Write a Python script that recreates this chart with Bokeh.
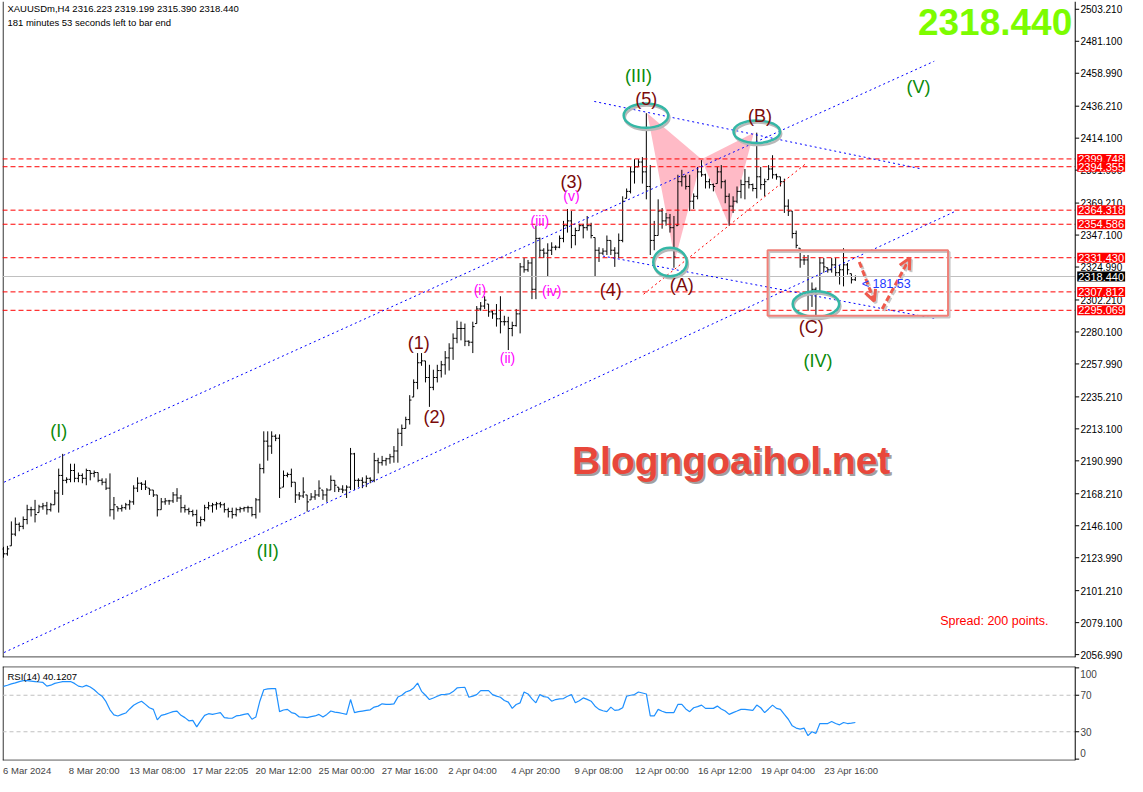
from bokeh.plotting import figure
from bokeh.models import Range1d, Span, Label, FixedTicker, PrintfTickFormatter, Arrow, OpenHead
from bokeh.layouts import column
from bokeh.embed import file_html
from bokeh.resources import INLINE

# ---------------- data ----------------
SYMBOL = "XAUUSDm,H4"
LAST_OHLC = [2316.223, 2319.199, 2315.390, 2318.440]
FIRST_OPEN = 2130.0

HIGH = [
    2131.5, 2132.2, 2149.1, 2151.8, 2148.4, 2152.5, 2160.6, 2159.2, 2164.0, 2160.6,
    2161.9, 2162.6, 2161.9, 2170.8, 2185.6, 2195.8, 2179.6, 2189.0, 2189.0, 2182.9,
    2182.3, 2185.6, 2184.3, 2184.3, 2182.9, 2178.9, 2178.9, 2182.3, 2166.0, 2159.2,
    2160.6, 2161.9, 2164.0, 2174.1, 2179.6, 2176.2, 2177.5, 2172.1, 2170.8, 2167.4,
    2165.3, 2165.3, 2164.0, 2169.4, 2172.1, 2167.4, 2160.6, 2158.6, 2157.2, 2157.2,
    2152.5, 2160.6, 2162.6, 2161.9, 2162.6, 2162.6, 2161.9, 2158.6, 2158.6, 2158.6,
    2159.2, 2159.2, 2159.9, 2159.2, 2165.3, 2189.0, 2211.4, 2211.4, 2211.4, 2209.3,
    2209.3, 2184.3, 2182.9, 2185.6, 2176.2, 2169.4, 2179.6, 2167.4, 2168.7, 2170.8,
    2177.5, 2170.8, 2172.1, 2180.9, 2177.5, 2172.8, 2174.1, 2174.1, 2199.9, 2196.5,
    2178.9, 2179.6, 2180.9, 2179.6, 2196.5, 2193.1, 2194.4, 2193.1, 2195.8, 2201.2,
    2213.4, 2216.1, 2221.5, 2236.4, 2247.3, 2265.5, 2265.5, 2260.1, 2257.4, 2254.0,
    2257.4, 2260.1, 2266.9, 2272.3, 2279.1, 2287.9, 2287.2, 2285.9, 2274.3, 2287.2,
    2298.0, 2300.8, 2304.8, 2299.4, 2294.7, 2299.4, 2304.8, 2291.3, 2290.6, 2287.2,
    2296.0, 2327.8, 2331.2, 2329.9, 2331.2, 2353.6, 2345.4, 2338.0, 2341.4, 2342.1,
    2340.0, 2346.8, 2356.9, 2365.1, 2363.7, 2352.2, 2354.9, 2354.9, 2360.3, 2355.6,
    2345.4, 2338.7, 2338.0, 2346.8, 2343.4, 2338.7, 2348.2, 2373.9, 2379.3, 2394.2,
    2399.6, 2399.6, 2401.0, 2431.4, 2395.5, 2356.9, 2371.8, 2365.8, 2362.4, 2361.7,
    2360.3, 2388.8, 2392.2, 2388.8, 2388.8, 2375.9, 2394.2, 2398.9, 2389.5, 2386.1,
    2382.7, 2394.2, 2395.5, 2385.4, 2375.9, 2373.9, 2380.7, 2385.4, 2392.8, 2387.4,
    2382.7, 2417.9, 2394.2, 2386.1, 2395.5, 2402.3, 2389.5, 2387.4, 2386.1, 2371.8,
    2363.7, 2350.2, 2338.0, 2333.3, 2333.3, 2314.3, 2310.9, 2331.9, 2331.2, 2324.5,
    2331.2, 2331.2, 2326.5, 2338.0, 2327.8, 2320.4, 2319.2]

LOW = [
    2124.0, 2125.4, 2132.2, 2138.9, 2142.3, 2143.7, 2147.1, 2152.5, 2148.4, 2155.2,
    2157.2, 2153.8, 2155.9, 2160.6, 2155.2, 2167.4, 2175.5, 2176.2, 2176.2, 2176.2,
    2175.5, 2174.1, 2177.5, 2179.6, 2176.2, 2174.1, 2170.8, 2152.5, 2150.4, 2155.9,
    2155.9, 2157.2, 2157.2, 2160.6, 2169.4, 2170.8, 2170.8, 2167.4, 2166.0, 2152.5,
    2157.2, 2160.6, 2160.6, 2161.9, 2162.6, 2155.2, 2155.2, 2153.8, 2152.5, 2145.7,
    2145.7, 2149.1, 2157.2, 2155.2, 2157.2, 2158.6, 2155.2, 2151.8, 2151.1, 2152.5,
    2155.2, 2155.9, 2155.2, 2152.5, 2151.1, 2155.2, 2182.3, 2191.1, 2195.8, 2204.6,
    2165.3, 2172.8, 2179.6, 2172.8, 2161.9, 2164.0, 2165.3, 2155.9, 2164.0, 2164.0,
    2166.0, 2164.0, 2162.6, 2170.8, 2169.4, 2169.4, 2168.7, 2165.3, 2170.8, 2170.8,
    2172.8, 2172.1, 2172.8, 2175.5, 2176.2, 2182.3, 2187.7, 2187.7, 2189.0, 2189.7,
    2189.7, 2201.2, 2213.4, 2216.1, 2235.1, 2240.5, 2256.7, 2245.2, 2228.3, 2239.8,
    2245.2, 2248.6, 2250.6, 2253.4, 2260.8, 2272.3, 2274.3, 2270.3, 2270.3, 2265.5,
    2285.9, 2294.7, 2296.0, 2290.6, 2289.2, 2283.8, 2279.1, 2284.5, 2267.6, 2277.1,
    2283.8, 2279.1, 2321.1, 2321.7, 2302.8, 2302.8, 2331.2, 2331.2, 2318.4, 2333.3,
    2336.6, 2338.0, 2342.1, 2348.8, 2338.0, 2340.0, 2350.2, 2344.8, 2350.2, 2344.8,
    2318.4, 2328.5, 2333.3, 2333.3, 2333.3, 2325.1, 2331.2, 2342.1, 2372.5, 2375.9,
    2382.7, 2394.2, 2382.7, 2371.8, 2333.3, 2336.6, 2346.8, 2351.5, 2353.6, 2348.8,
    2324.5, 2353.6, 2380.7, 2378.6, 2363.7, 2365.1, 2371.8, 2387.4, 2379.3, 2379.3,
    2377.3, 2382.7, 2379.3, 2369.1, 2353.6, 2362.4, 2369.1, 2372.5, 2371.8, 2379.3,
    2377.3, 2372.5, 2378.6, 2373.9, 2385.4, 2386.1, 2385.4, 2380.7, 2362.4, 2360.3,
    2344.8, 2338.0, 2324.5, 2326.5, 2294.7, 2297.4, 2291.3, 2308.2, 2321.1, 2321.1,
    2321.1, 2318.4, 2312.9, 2311.6, 2319.7, 2313.6, 2315.4]

CLOSE = [
    2126.7, 2130.1, 2140.3, 2147.1, 2145.7, 2150.4, 2157.2, 2157.2, 2153.8, 2159.2,
    2159.9, 2157.2, 2160.6, 2168.7, 2180.9, 2177.5, 2178.2, 2184.3, 2178.9, 2180.9,
    2178.9, 2184.3, 2182.3, 2182.9, 2177.5, 2176.2, 2172.1, 2157.2, 2160.6, 2157.9,
    2158.6, 2160.6, 2162.6, 2172.1, 2175.5, 2174.8, 2172.8, 2170.8, 2167.4, 2157.2,
    2162.6, 2163.3, 2163.3, 2167.4, 2165.3, 2158.6, 2157.2, 2155.9, 2153.8, 2148.4,
    2150.4, 2158.6, 2159.9, 2160.6, 2161.3, 2160.6, 2157.2, 2155.9, 2153.8, 2157.2,
    2157.9, 2158.6, 2158.6, 2153.8, 2164.0, 2185.6, 2204.6, 2201.2, 2208.0, 2206.6,
    2172.1, 2180.9, 2181.6, 2176.2, 2167.4, 2166.7, 2169.4, 2162.6, 2166.0, 2167.4,
    2172.1, 2167.4, 2170.8, 2177.5, 2174.1, 2171.4, 2170.8, 2172.8, 2195.8, 2177.5,
    2177.5, 2176.2, 2178.9, 2177.5, 2191.1, 2189.7, 2191.1, 2192.4, 2193.8, 2197.8,
    2210.0, 2213.4, 2219.5, 2233.0, 2245.2, 2258.8, 2260.1, 2248.6, 2241.8, 2248.6,
    2253.4, 2257.4, 2262.2, 2268.9, 2275.7, 2282.5, 2282.5, 2273.7, 2273.0, 2283.8,
    2296.0, 2298.0, 2302.1, 2294.0, 2292.6, 2289.2, 2287.2, 2287.2, 2282.5, 2284.5,
    2292.6, 2325.1, 2323.1, 2327.8, 2309.6, 2344.8, 2336.6, 2334.6, 2336.6, 2338.7,
    2338.7, 2344.8, 2353.6, 2356.9, 2346.8, 2350.2, 2353.6, 2352.2, 2353.6, 2346.8,
    2336.6, 2334.6, 2336.0, 2343.4, 2336.6, 2334.6, 2343.4, 2370.5, 2377.3, 2390.8,
    2394.2, 2397.6, 2390.8, 2380.7, 2343.4, 2346.8, 2363.7, 2356.9, 2359.0, 2352.2,
    2331.9, 2384.0, 2387.4, 2380.7, 2370.5, 2373.9, 2390.8, 2388.8, 2384.0, 2382.0,
    2380.7, 2390.8, 2384.0, 2373.9, 2367.1, 2370.5, 2377.3, 2382.0, 2384.0, 2382.0,
    2379.3, 2387.4, 2382.0, 2384.0, 2392.8, 2388.8, 2387.4, 2384.0, 2367.1, 2363.7,
    2348.2, 2340.0, 2329.9, 2329.9, 2306.2, 2309.6, 2306.2, 2327.8, 2325.1, 2323.1,
    2326.5, 2321.1, 2323.1, 2326.5, 2323.1, 2316.2, 2318.44]

RSI = [
    79.7, 81.0, 82.5, 83.5, 85.0, 86.0, 86.0, 85.5, 85.0, 84.5,
    84.0, 80.0, 81.0, 83.0, 84.0, 85.0, 85.0, 85.0, 83.0, 80.0,
    79.0, 80.8, 79.0, 76.0, 72.0, 69.0, 63.0, 54.0, 48.5, 47.3,
    49.0, 50.5, 55.0, 59.0, 61.5, 63.5, 60.0, 56.3, 54.5, 43.0,
    48.0, 49.0, 50.5, 52.0, 52.7, 48.0, 45.5, 42.0, 42.5, 35.4,
    42.0, 48.0, 49.8, 49.0, 50.0, 51.0, 45.5, 45.0, 44.8, 47.3,
    48.0, 49.0, 49.8, 43.7, 46.2, 63.5, 76.0, 77.0, 77.2, 77.2,
    52.0, 53.8, 54.5, 51.0, 49.8, 46.2, 46.0, 45.5, 46.5, 47.3,
    49.0, 46.2, 49.0, 52.7, 51.5, 51.0, 50.0, 49.0, 65.3, 51.0,
    52.0, 52.7, 53.4, 54.0, 57.0, 58.1, 60.6, 60.0, 59.9, 60.6,
    68.0, 70.0, 73.6, 75.0, 78.0, 83.3, 74.3, 70.0, 65.3, 67.0,
    68.9, 70.7, 71.0, 71.4, 74.0, 78.0, 78.5, 78.6, 67.8, 69.0,
    70.7, 75.0, 75.0, 75.0, 70.7, 69.0, 67.8, 64.2, 62.5, 55.6,
    59.9, 61.7, 73.6, 71.4, 66.0, 61.7, 70.7, 68.5, 67.8, 63.5,
    65.3, 66.0, 66.4, 68.9, 70.7, 61.7, 64.0, 67.1, 65.5, 63.5,
    58.0, 54.5, 53.0, 52.0, 57.0, 53.4, 54.0, 56.3, 68.9, 70.0,
    70.7, 73.6, 72.5, 71.4, 47.3, 47.3, 54.5, 52.5, 51.0, 51.0,
    51.0, 59.9, 59.9, 55.0, 52.0, 56.3, 57.5, 59.2, 55.6, 55.6,
    55.6, 58.1, 55.0, 52.7, 49.0, 51.0, 52.7, 54.5, 54.5, 54.0,
    53.4, 59.2, 56.3, 51.0, 55.0, 59.2, 55.6, 54.5, 49.0, 43.7,
    36.5, 34.0, 32.9, 34.0, 25.7, 30.0, 28.2, 39.0, 39.0, 39.0,
    41.2, 39.0, 37.6, 40.1, 39.0, 39.5, 40.1207]
RSI_PERIOD = 14

PRICE_TICKS = [2056.99, 2079.10, 2101.21, 2123.99, 2146.10, 2168.21, 2190.99,
               2213.10, 2235.21, 2257.99, 2280.10, 2302.21, 2324.99, 2347.10,
               2369.21, 2391.99, 2414.10, 2436.21, 2458.99, 2481.10, 2503.21]
LEVELS = [2399.748, 2394.355, 2364.318, 2354.586, 2331.430, 2307.812, 2295.069]
RSI_TICKS = [0, 30, 70, 100]
RSI_LEVELS = [30, 70]
TIME_BARS = [1, 17, 33, 49, 65, 81, 97, 113, 129, 145, 161, 177, 193, 209]
TIME_LABELS = ["6 Mar 2024", "8 Mar 20:00", "13 Mar 08:00", "17 Mar 22:05",
               "20 Mar 12:00", "25 Mar 00:00", "27 Mar 16:00", "2 Apr 04:00",
               "4 Apr 20:00", "9 Apr 08:00", "12 Apr 00:00", "16 Apr 12:00",
               "19 Apr 04:00", "23 Apr 16:00"]
SPREAD_POINTS = 200
MEASURE = "181.53"

# ---------------- annotation anchors (bar index, price) ----------------
WAVES_MAJOR = [("(I)", 15, 2211.4), ("(II)", 68, 2128.8), ("(III)", 162, 2457.2),
               ("(IV)", 207.5, 2260.1), ("(V)", 233, 2449.7)]
WAVES_MINOR = [("(1)", 106.3, 2272.3), ("(2)", 110.3, 2221.5), ("(3)", 145, 2384.0),
               ("(4)", 155, 2308.9), ("(5)", 164, 2440.9), ("(A)", 173, 2312.9),
               ("(B)", 192.8, 2429.4), ("(C)", 205.8, 2283.8)]
WAVES_SUB = [("(i)", 121.8, 2308.9), ("(ii)", 128.8, 2262.2), ("(iii)", 137, 2357.0),
             ("(iv)", 140, 2308.2), ("(v)", 145, 2373.9)]
CHANNELS = [((0, 2174.8), (237, 2467.3)), ((0, 2057.0), (242.5, 2363.7)),
            ((150.8, 2439.5), (233.8, 2392.8)), ((153, 2332.6), (237.5, 2289.2))]
RED_DOT_LINE = ((163.3, 2306.2), (204.3, 2396.2))
PATTERN_X = [[164.25, 171.25, 178.0], [178.0, 185.0, 191.25]]
PATTERN_Y = [[2431.4, 2329.9, 2399.6], [2399.6, 2353.6, 2417.9]]
ELL_X = [163.9, 192.0, 170.0, 207.0]
ELL_Y = [2429.7, 2418.6, 2328.5, 2299.4]
ELL_W = [11.3, 11.8, 8.5, 11.8]
ELL_H = [16.9, 15.6, 19.6, 17.6]
BOX = (194.75, 240.5, 2336.6, 2291.3)
ARROWS = [((218.0, 2328.5), (221.8, 2301.4)), ((223.8, 2296.0), (230.8, 2331.2))]

FONT = "Liberation Sans"
AX = 272.75                 # bar position of the price scale line
XR = (0.75, 285.75)         # frame also covers the price-scale strip
YR = (2055.0, 2508.6)
RR = (-1.5, 101.5)
FW = 1124
TICK_LEN = 1.0              # in bars

N = len(CLOSE)
X = list(range(1, N + 1))
OPEN = [FIRST_OPEN] + CLOSE[:-1]
OPEN[-1] = LAST_OHLC[0]
OPEN_D = [min(max(o, l), h) for o, l, h in zip(OPEN, LOW, HIGH)]

# ---------------- main price panel ----------------
p = figure(frame_width=FW, frame_height=656, x_range=Range1d(*XR), y_range=Range1d(*YR),
           y_axis_location="right", toolbar_location=None, output_backend="svg",
           min_border_left=2, min_border_top=1, min_border_bottom=7, min_border_right=1)
p.xaxis.visible = False
p.grid.visible = False
p.outline_line_color = None
p.background_fill_color = "white"
p.border_fill_color = "white"
ya = p.yaxis[0]
ya.ticker = FixedTicker(ticks=PRICE_TICKS)
ya.formatter = PrintfTickFormatter(format="%.3f")
ya.major_tick_in = 0
ya.major_tick_out = 0
ya.minor_tick_in = 0
ya.minor_tick_out = 0
ya.major_label_standoff = -46
ya.major_label_text_font = FONT
ya.major_label_text_font_size = "10px"
ya.major_label_text_color = "black"
ya.axis_line_color = None

# panel borders, price-scale line and its ticks
p.add_layout(Span(location=AX, dimension="height", line_color="black", line_width=1))
p.segment(x0=[XR[0], XR[0] + 0.15], y0=[YR[0] + 0.3, YR[0]], x1=[AX, XR[0] + 0.15], y1=[YR[0] + 0.3, YR[1]],
          line_color="black", line_width=1)
p.segment(x0=[AX] * len(PRICE_TICKS), y0=PRICE_TICKS, x1=[AX + TICK_LEN] * len(PRICE_TICKS),
          y1=PRICE_TICKS, line_color="black", line_width=1)

# harmonic pattern (pink)
p.patches(xs=PATTERN_X, ys=PATTERN_Y, fill_color="#ffbac6", line_color=None, fill_alpha=1.0)

# OHLC bars
p.segment(x0=X, y0=LOW, x1=X, y1=HIGH, line_color="black", line_width=1)
p.segment(x0=[x - 0.45 for x in X], y0=OPEN_D, x1=X, y1=OPEN_D, line_color="black", line_width=1)
p.segment(x0=X, y0=CLOSE, x1=[x + 0.45 for x in X], y1=CLOSE, line_color="black", line_width=1)

# horizontal levels
p.segment(x0=[XR[0]], y0=[LAST_OHLC[3]], x1=[AX], y1=[LAST_OHLC[3]], line_color="#c0c0c0", line_width=1)
p.segment(x0=[XR[0]] * len(LEVELS), y0=LEVELS, x1=[AX] * len(LEVELS), y1=LEVELS,
          line_color="red", line_width=1, line_dash="5 3")

# channel / trend lines
for (a, b) in CHANNELS:
    p.line(x=[a[0], b[0]], y=[a[1], b[1]], line_color="blue", line_width=1, line_dash="2 3")
p.line(x=[RED_DOT_LINE[0][0], RED_DOT_LINE[1][0]], y=[RED_DOT_LINE[0][1], RED_DOT_LINE[1][1]],
       line_color="red", line_width=1, line_dash="2 3")

# ellipses
p.ellipse(x=[v + 0.3 for v in ELL_X], y=[v - 1.5 for v in ELL_Y], width=ELL_W, height=ELL_H,
          fill_color=None, line_color="#b8b8b8", line_width=2.5)
p.ellipse(x=ELL_X, y=ELL_Y, width=ELL_W, height=ELL_H, fill_color=None,
          line_color="#35b7a6", line_width=2.5)

# box
l, r, t, b = BOX
p.quad(left=[l + 0.4], right=[r + 0.4], top=[t - 1.2], bottom=[b - 1.2], fill_color=None,
       line_color="#c8c8c8", line_width=2)
p.quad(left=[l], right=[r], top=[t], bottom=[b], fill_color=None, line_color="#f08078", line_width=2)

# arrows
for (s, e) in ARROWS:
    p.add_layout(Arrow(end=OpenHead(size=11, line_color="#c8c8c8", line_width=3),
                       x_start=s[0] + 0.4, y_start=s[1] - 1.2, x_end=e[0] + 0.4, y_end=e[1] - 1.2,
                       line_color="#c8c8c8", line_width=3, line_dash="6 3"))
    p.add_layout(Arrow(end=OpenHead(size=11, line_color="#ef5a4c", line_width=3),
                       x_start=s[0], y_start=s[1], x_end=e[0], y_end=e[1],
                       line_color="#ef5a4c", line_width=3, line_dash="6 3"))

p.add_layout(Label(x=ARROWS[0][0][0] + 0.6, y=2313.6, text="< " + MEASURE, text_color="#1f3cff",
                   text_font=FONT, text_font_size="12.5px", text_baseline="middle", text_align="left"))

# wave labels
for txt, xx, yy in WAVES_MAJOR:
    p.add_layout(Label(x=xx, y=yy, text=txt, text_color="#0a8a0a", text_font=FONT,
                       text_font_size="18px", text_align="center", text_baseline="middle"))
for txt, xx, yy in WAVES_MINOR:
    p.add_layout(Label(x=xx, y=yy, text=txt, text_color="#7a0a0a", text_font=FONT,
                       text_font_size="18px", text_align="center", text_baseline="middle"))
for txt, xx, yy in WAVES_SUB:
    p.add_layout(Label(x=xx, y=yy, text=txt, text_color="#ff00ff", text_font=FONT,
                       text_font_size="14px", text_align="center", text_baseline="middle"))

# watermark
for dx, dy, col in [(2, -2, "#a0a0a0"), (0, 0, "#e8473b")]:
    p.add_layout(Label(x=185.5, y=2191.1, x_offset=dx, y_offset=dy, text="Blogngoaihol.net",
                       text_color=col, text_font=FONT, text_font_size="39px",
                       text_font_style="bold", text_align="center", text_baseline="middle"))

# header texts
p.add_layout(Label(x=2, y=2503.9, text=SYMBOL + "  " + " ".join("%.3f" % v for v in LAST_OHLC),
                   text_font=FONT, text_font_size="9.5px", text_color="black",
                   text_baseline="middle", text_align="left"))
p.add_layout(Label(x=2, y=2494.4, text="181 minutes 53 seconds left to bar end",
                   text_font=FONT, text_font_size="9.5px", text_color="black",
                   text_baseline="middle", text_align="left"))
p.add_layout(Label(x=AX, y=2494.4, x_offset=-3, text="%.3f" % LAST_OHLC[3],
                   text_font=FONT, text_font_size="37px", text_font_style="bold",
                   text_color="#7cfc00", text_baseline="middle", text_align="right"))
p.add_layout(Label(x=238.5, y=2080.0, text="Spread: %d points." % SPREAD_POINTS, text_font=FONT,
                   text_font_size="12.5px", text_color="red", text_baseline="middle",
                   text_align="left"))

# price boxes on the price scale
for lv in LEVELS:
    p.add_layout(Label(x=AX, y=lv, x_offset=2, text="%.3f" % lv, text_font=FONT,
                       text_font_size="11px", text_color="white", background_fill_color="red",
                       text_baseline="middle", text_align="left", padding=1))
p.add_layout(Label(x=AX, y=LAST_OHLC[3], x_offset=2, text="%.3f" % LAST_OHLC[3], text_font=FONT,
                   text_font_size="11px", text_color="white", background_fill_color="black",
                   text_baseline="middle", text_align="left", padding=1))

# ---------------- RSI panel ----------------
q = figure(frame_width=FW, frame_height=94, x_range=p.x_range, y_range=Range1d(*RR),
           y_axis_location="right", toolbar_location=None, output_backend="svg",
           min_border_left=2, min_border_top=2, min_border_bottom=0, min_border_right=1)
q.grid.visible = False
q.outline_line_color = None
q.background_fill_color = "white"
q.border_fill_color = "white"
q.add_layout(Span(location=AX, dimension="height", line_color="black", line_width=1))
q.segment(x0=[XR[0], XR[0], XR[0] + 0.15], y0=[RR[1] - 0.3, RR[0] + 0.3, RR[0]],
          x1=[AX, AX, XR[0] + 0.15], y1=[RR[1] - 0.3, RR[0] + 0.3, RR[1]],
          line_color="black", line_width=1)
q.segment(x0=[AX] * len(RSI_TICKS), y0=RSI_TICKS, x1=[AX + TICK_LEN] * len(RSI_TICKS),
          y1=RSI_TICKS, line_color="black", line_width=1)
q.segment(x0=[XR[0]] * len(RSI_LEVELS), y0=RSI_LEVELS, x1=[AX] * len(RSI_LEVELS), y1=RSI_LEVELS,
          line_color="#c0c0c0", line_width=1, line_dash="4 3")
q.line(x=X, y=RSI, line_color="#1e90ff", line_width=1.2)
q.add_layout(Label(x=2, y=91, text="RSI(%d) %.4f" % (RSI_PERIOD, RSI[-1]), text_font=FONT,
                   text_font_size="9.5px", text_color="black", text_baseline="middle"))
qy = q.yaxis[0]
qy.ticker = FixedTicker(ticks=RSI_TICKS)
qy.major_label_overrides = {0: "", 100: ""}
qy.major_tick_in = 0
qy.major_tick_out = 0
qy.minor_tick_in = 0
qy.minor_tick_out = 0
qy.major_label_standoff = -46
qy.major_label_text_font = FONT
qy.major_label_text_font_size = "10px"
qy.axis_line_color = None
q.add_layout(Label(x=AX, y=100, x_offset=5, y_offset=-6, text="100", text_font=FONT,
                   text_font_size="10px", text_baseline="middle", text_align="left"))
q.add_layout(Label(x=AX, y=0, x_offset=5, y_offset=6, text="0", text_font=FONT,
                   text_font_size="10px", text_baseline="middle", text_align="left"))

centers = [int(round(b + len(s) * 0.6)) for b, s in zip(TIME_BARS, TIME_LABELS)]
qx = q.xaxis[0]
qx.ticker = FixedTicker(ticks=centers)
qx.major_label_overrides = {c: s for c, s in zip(centers, TIME_LABELS)}
qx.major_tick_in = 0
qx.major_tick_out = 0
qx.minor_tick_in = 0
qx.minor_tick_out = 0
qx.major_label_standoff = 4
qx.major_label_text_font = FONT
qx.major_label_text_font_size = "9.5px"
qx.axis_line_color = None

layout = column(p, q, spacing=0)
open("out.html", "w").write(file_html(layout, INLINE))
